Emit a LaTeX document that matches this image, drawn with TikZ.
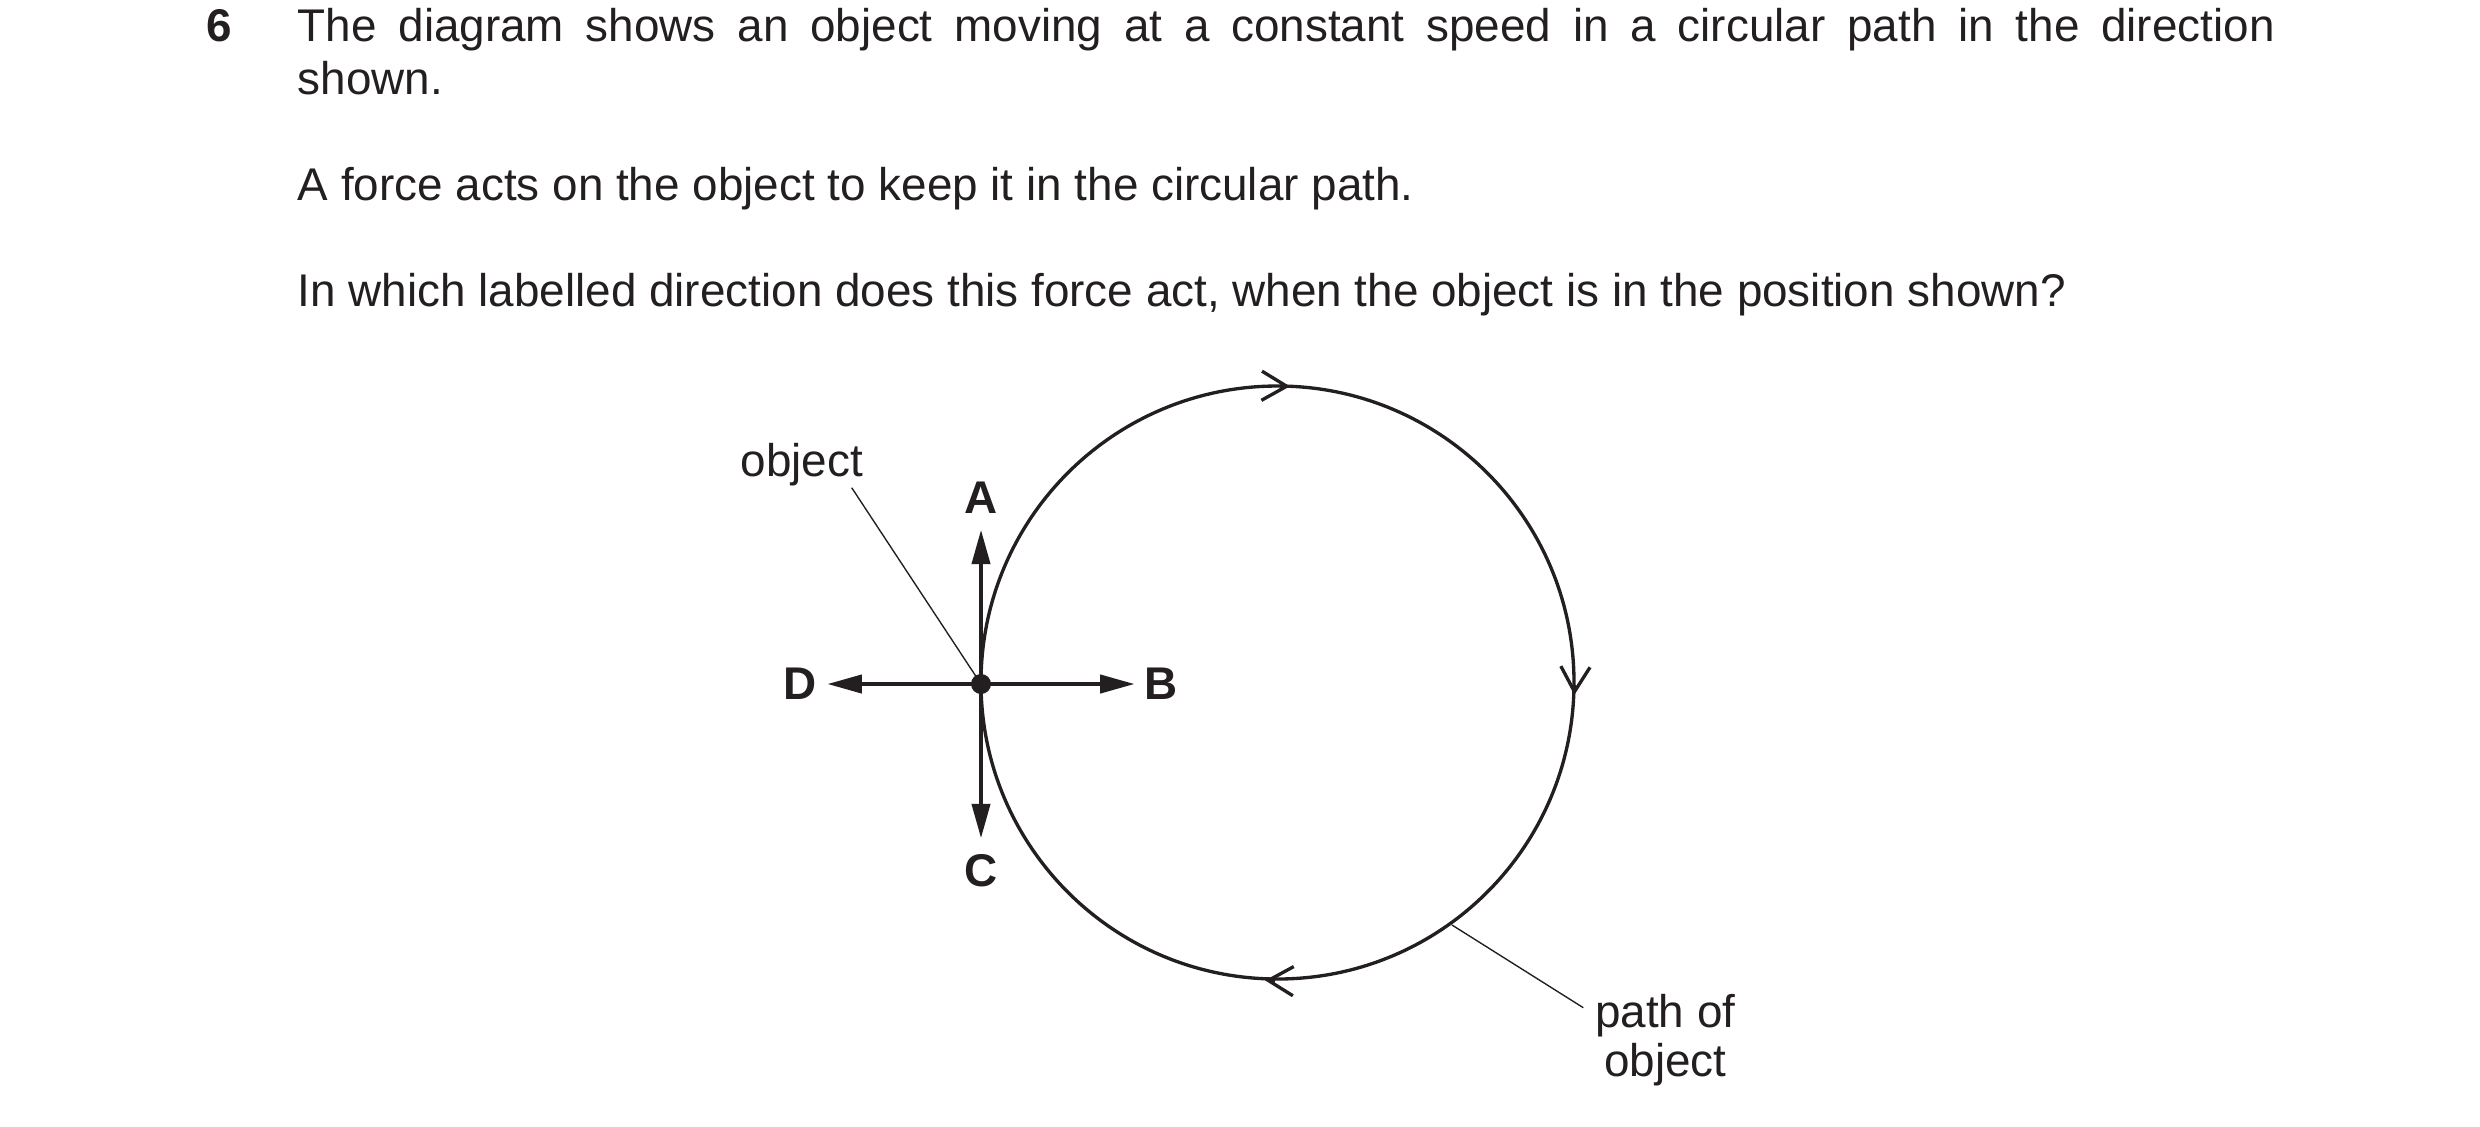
\documentclass[tikz,border=0pt]{standalone}
\usepackage{fontspec}
\setmainfont{Liberation Sans}
\usetikzlibrary{arrows.meta}
\definecolor{ink}{HTML}{231F20}
\begin{document}
\begin{tikzpicture}[x=0.24pt,y=-0.24pt,
  txt/.style={font=\fontsize{11}{13}\selectfont, text=ink, inner sep=0pt},
  lbl/.style={font=\fontsize{11}{13}\selectfont\bfseries, text=ink, inner sep=0pt},
  pathline/.style={line width=0.8pt, draw=ink},
  force/.style={line width=0.75pt, draw=ink, -{Triangle[length=8.2pt,width=4.4pt]}},
  barb/.style={line width=0.8pt, draw=ink, -{Straight Barb[length=6pt,width=7pt]}},
  leader/.style={line width=0.33pt, draw=ink}]
\useasboundingbox (0,0) rectangle (2480,1126);
% question text
\node[lbl, anchor=base west] (qn) at (205.5,41.5) {6};
\node[txt, anchor=base west] (l1) at (297,41.5) {\makebox[474.5pt][s]{The diagram shows an object moving at a constant speed in a circular path in the direction}};
\node[txt, anchor=base west] (l2) at (297,94.5) {shown.};
\node[txt, anchor=base west] (l3) at (297,200) {A force acts on the object to keep it in the circular path.};
\node[txt, anchor=base west] (l4) at (297,306) {In which labelled direction does this force act, when the object is in the position shown?};
% circle path
\coordinate (O) at (1277.5,682.5);
\draw[pathline] (O) circle[radius=296.5];
\coordinate (T) at (1290,386.3);
\coordinate (R) at (1574.3,695);
\coordinate (Bt) at (1265,980.3);
\draw[barb] (1280,386.1) -- (T);
\draw[barb] (1574.7,685) -- (R);
\draw[barb] (1275,980.6) -- (Bt);
% labels and leaders
\node[txt, anchor=base] (objlbl) at (802,476) {object};
\coordinate (objL) at (851.7,487.7);
\coordinate (Pc) at (981,684);
\draw[leader] (objL) -- (Pc);
\node[txt, anchor=base] (pathlbl1) at (1665.3,1027) {path of};
\node[txt, anchor=base] (pathlbl2) at (1665.3,1076) {object};
\coordinate (pathA) at (1452,925);
\coordinate (pathB) at (1583.3,1007.7);
\draw[leader] (pathA) -- (pathB);
% force arrows
\coordinate (Atip) at (981,530);
\coordinate (Btip) at (1134.3,684);
\coordinate (Ctip) at (981,838);
\coordinate (Dtip) at (827.7,684);
\draw[force] (Pc) -- (Atip);
\draw[force] (Pc) -- (Btip);
\draw[force] (Pc) -- (Ctip);
\draw[force] (Pc) -- (Dtip);
\node[lbl] (A) at (981.5,497.5) {A};
\node[lbl] (B) at (1161,684) {B};
\node[lbl] (C) at (981,871) {C};
\node[lbl] (D) at (800,684) {D};
\node[circle, fill=ink, minimum size=4.8pt, inner sep=0pt] (P) at (Pc) {};
\end{tikzpicture}
\end{document}
